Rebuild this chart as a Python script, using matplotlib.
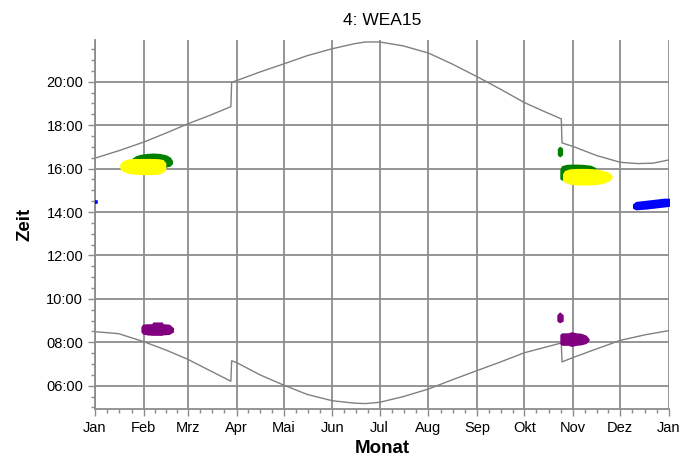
import numpy as np
import matplotlib.pyplot as plt
from matplotlib.ticker import FixedLocator

plt.rcParams['font.family'] = ['Liberation Sans', 'DejaVu Sans']

# month starts (day of year) and labels
month_days = [0, 31, 59, 90, 120, 151, 181, 212, 243, 273, 304, 334, 365]
month_labels = ['Jan', 'Feb', 'Mrz', 'Apr', 'Mai', 'Jun', 'Jul', 'Aug', 'Sep', 'Okt', 'Nov', 'Dez', 'Jan']

# sunset / sunrise (hours)
sunset_day = [0, 15, 31, 45, 59, 73, 86.4, 86.9, 90, 105, 120, 135, 151, 165, 172, 181, 196, 212, 227, 243,
              258, 273, 285, 296.5, 297, 304, 319, 334, 345, 355, 365]
sunset_h = [16.48, 16.82, 17.22, 17.63, 18.06, 18.45, 18.85, 19.97, 20.05, 20.45, 20.82, 21.2, 21.52, 21.75,
            21.83, 21.83, 21.65, 21.32, 20.82, 20.23, 19.65, 19.04, 18.65, 18.29, 17.18, 17.02, 16.6, 16.29,
            16.23, 16.25, 16.4]
sunrise_day = [0, 15, 31, 45, 59, 73, 86.4, 86.9, 90, 105, 120, 135, 151, 165, 172, 181, 196, 212, 227, 243,
               258, 273, 285, 296.5, 297, 304, 319, 334, 350, 365]
sunrise_h = [8.49, 8.4, 8.03, 7.65, 7.22, 6.7, 6.21, 7.15, 7.07, 6.5, 6.03, 5.6, 5.31, 5.2, 5.18, 5.24, 5.5,
             5.85, 6.27, 6.7, 7.1, 7.52, 7.75, 7.97, 7.1, 7.3, 7.7, 8.09, 8.35, 8.54]

# shadow areas: day, upper hour, lower hour
green_feb_day = [24, 26, 29, 33, 37, 41, 45, 47.5, 48.8]
green_feb_top = [16.45, 16.55, 16.62, 16.66, 16.68, 16.66, 16.6, 16.5, 16.35]
green_feb_bot = [16.2, 16.12, 16.06, 16.05, 16.05, 16.08, 16.1, 16.15, 16.25]

yellow_feb_day = [16.3, 18, 21, 25, 30, 35, 40, 43, 44.5]
yellow_feb_top = [16.2, 16.33, 16.4, 16.43, 16.43, 16.43, 16.42, 16.38, 16.25]
yellow_feb_bot = [16.02, 15.9, 15.82, 15.78, 15.76, 15.76, 15.78, 15.85, 15.98]

green_nov_day = [296.1, 297, 300, 305, 310, 315, 318]
green_nov_top = [15.95, 16.1, 16.16, 16.17, 16.16, 16.12, 16.02]
green_nov_bot = [15.55, 15.5, 15.55, 15.7, 15.8, 15.9, 15.95]

green_dot_day = [294.5, 295.5, 296.8]
green_dot_top = [16.9, 16.99, 16.92]
green_dot_bot = [16.65, 16.58, 16.65]

yellow_nov_day = [297.8, 299, 302, 307, 313, 319, 324, 327, 328.3]
yellow_nov_top = [15.75, 15.88, 15.95, 15.97, 15.97, 15.94, 15.86, 15.78, 15.66]
yellow_nov_bot = [15.5, 15.4, 15.32, 15.28, 15.28, 15.3, 15.38, 15.48, 15.58]

blue_dec_day = [342.3, 344, 350, 356, 362, 365]
blue_dec_top = [14.35, 14.45, 14.5, 14.55, 14.6, 14.6]
blue_dec_bot = [14.2, 14.14, 14.17, 14.22, 14.27, 14.3]

blue_jan_day = [0, 1.2]
blue_jan_top = [14.52, 14.52]
blue_jan_bot = [14.42, 14.42]

purple_feb_day = [29.7, 30.5, 33, 36.5, 37, 42.5, 43, 47, 49.4]
purple_feb_top = [8.7, 8.8, 8.82, 8.82, 8.9, 8.9, 8.82, 8.8, 8.65]
purple_feb_bot = [8.5, 8.42, 8.38, 8.36, 8.36, 8.36, 8.38, 8.4, 8.5]

purple_nov_day = [296.1, 297, 301, 303, 306, 309, 312, 313.7]
purple_nov_top = [8.35, 8.4, 8.4, 8.45, 8.4, 8.38, 8.3, 8.15]
purple_nov_bot = [7.95, 7.9, 7.9, 7.85, 7.9, 7.92, 7.98, 8.1]

purple_dot_day = [294.2, 295.5, 297.2]
purple_dot_top = [9.25, 9.36, 9.25]
purple_dot_bot = [9.0, 8.94, 9.0]

grid_c = '#8c8c8c'

fig = plt.figure(figsize=(6.97, 4.63), dpi=100)
ax = fig.add_axes([0.1363, 0.1166, 0.8235, 0.797])

for d in month_days:
    ax.axvline(d, color=grid_c, lw=1.3, zorder=1)
for h in range(6, 21, 2):
    ax.axhline(h, color=grid_c, lw=1.3, zorder=1)

ax.plot(sunset_day, sunset_h, color='#808080', lw=1, zorder=2)
ax.plot(sunrise_day, sunrise_h, color='#808080', lw=1, zorder=2)

blobs = [
    (green_feb_day, green_feb_top, green_feb_bot, '#007f00'),
    (yellow_feb_day, yellow_feb_top, yellow_feb_bot, '#ffff00'),
    (green_nov_day, green_nov_top, green_nov_bot, '#007f00'),
    (green_dot_day, green_dot_top, green_dot_bot, '#007f00'),
    (yellow_nov_day, yellow_nov_top, yellow_nov_bot, '#ffff00'),
    (blue_dec_day, blue_dec_top, blue_dec_bot, '#0000ff'),
    (blue_jan_day, blue_jan_top, blue_jan_bot, '#0000ff'),
    (purple_feb_day, purple_feb_top, purple_feb_bot, '#800080'),
    (purple_nov_day, purple_nov_top, purple_nov_bot, '#800080'),
    (purple_dot_day, purple_dot_top, purple_dot_bot, '#800080'),
]
for d, top, bot, c in blobs:
    ax.fill_between(d, bot, top, color=c, lw=1.2, edgecolor=c, zorder=3)

ax.set_xlim(0, 365)
ax.set_ylim(4.93, 21.92)

ax.set_xticks(month_days)
ax.set_xticklabels(month_labels, fontsize=10.5)
minor_x = []
for a, b in zip(month_days[:-1], month_days[1:]):
    minor_x += [a + (b - a) * k / 4 for k in (1, 2, 3)]
ax.xaxis.set_minor_locator(FixedLocator(minor_x))

ax.set_yticks(range(6, 21, 2))
ax.set_yticklabels(['%02d:00' % h for h in range(6, 21, 2)], fontsize=10.5)
ax.yaxis.set_minor_locator(FixedLocator(np.arange(5.0, 22.0, 0.5)))

ax.tick_params(which='major', length=5, color=grid_c, width=1)
ax.tick_params(which='minor', length=3, color=grid_c, width=1)

for s in ['top', 'right']:
    ax.spines[s].set_visible(False)
for s in ['left', 'bottom']:
    ax.spines[s].set_color(grid_c)
    ax.spines[s].set_linewidth(1.3)

ax.set_title('4: WEA15', fontsize=12.5, pad=11)
ax.set_xlabel('Monat', fontsize=13.5, fontweight='bold', labelpad=4)
ax.set_ylabel('Zeit', fontsize=13.5, fontweight='bold', labelpad=9)

fig.savefig('out.png', dpi=100)
